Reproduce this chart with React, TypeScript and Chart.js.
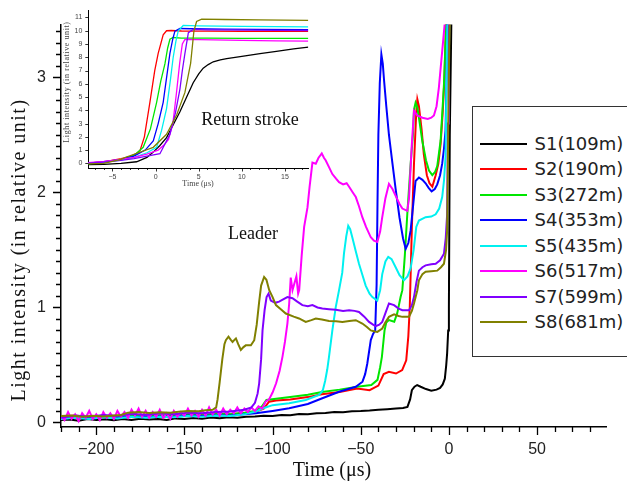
import React, { useEffect, useRef } from "react";
import { Chart, registerables } from "chart.js";
Chart.register(...registerables);

const SERIES_NAMES = ["S1(109m)", "S2(190m)", "S3(272m)", "S4(353m)", "S5(435m)", "S6(517m)", "S7(599m)", "S8(681m)"];
const SERIES_COLORS = ["#000000", "#ff0000", "#00e600", "#0000ff", "#00f0f0", "#ff00ff", "#8000ff", "#808000"];

const X_TICKS = [-200, -150, -100, -50, 0, 50];
const Y_TICKS = [0, 1, 2, 3];
const INSET_X_TICKS = [-5, 0, 5, 10, 15];
const INSET_Y_TICKS = [0, 1, 2, 3, 4, 5, 6, 7, 8, 9, 10, 11];

// Main chart: leader phase (time in µs, light intensity relative)
const S1 = [[-220,0.02],[-215,0.025],[-210,0.015],[-205,0.03],[-200,0.02],[-195,0.028],[-190,0.018],[-185,0.03],[-180,0.022],[-175,0.032],[-170,0.025],[-165,0.03],[-160,0.022],[-155,0.035],[-150,0.03],[-145,0.038],[-140,0.032],[-135,0.042],[-130,0.036],[-125,0.045],[-120,0.04],[-115,0.05],[-110,0.052],[-105,0.058],[-100,0.055],[-95,0.065],[-90,0.062],[-85,0.072],[-80,0.07],[-75,0.08],[-70,0.082],[-65,0.09],[-60,0.088],[-55,0.098],[-50,0.1],[-45,0.104],[-40,0.11],[-35,0.115],[-30,0.12],[-26,0.125],[-23.5,0.135],[-22,0.2],[-21,0.28],[-19.5,0.31],[-18,0.325],[-16,0.31],[-13,0.29],[-10,0.275],[-7,0.285],[-5,0.3],[-3.5,0.33],[-2.3,0.38],[-1.5,0.5],[-1,0.6],[-0.4,0.8],[0,1.0],[0.5,2.5],[1.5,3.6],[2.5,4.2]];
const S2 = [[-220,0.05],[-212,0.06],[-204,0.045],[-196,0.058],[-188,0.05],[-180,0.062],[-172,0.055],[-164,0.06],[-156,0.058],[-148,0.07],[-140,0.065],[-132,0.075],[-124,0.07],[-116,0.082],[-110,0.09],[-105,0.12],[-102,0.18],[-98,0.19],[-90,0.2],[-80,0.22],[-72,0.245],[-62,0.265],[-52,0.295],[-45,0.28],[-40,0.32],[-37,0.42],[-34,0.44],[-30,0.425],[-26.5,0.455],[-24.2,0.54],[-23,0.75],[-22.2,1.0],[-21.5,1.4],[-21,1.7],[-19.8,2.25],[-18.5,2.7],[-17.9,2.81],[-17,2.75],[-15.5,2.55],[-14.2,2.33],[-12.5,2.15],[-11,2.08],[-9.4,2.05],[-7.5,2.15],[-6,2.25],[-4.7,2.42],[-3.5,2.7],[-2.5,3.0],[-1.6,3.5],[-1,3.8]];
const S3 = [[-220,0.04],[-212,0.055],[-204,0.045],[-196,0.06],[-188,0.05],[-180,0.06],[-172,0.052],[-164,0.062],[-156,0.058],[-148,0.068],[-140,0.062],[-132,0.072],[-124,0.07],[-116,0.085],[-110,0.1],[-106,0.14],[-103.5,0.195],[-98,0.205],[-90,0.22],[-80,0.24],[-72,0.265],[-62,0.285],[-52,0.31],[-44,0.325],[-40.5,0.37],[-39,0.48],[-38,0.57],[-36.5,0.8],[-35.5,0.87],[-34,0.89],[-31,0.875],[-29.3,0.95],[-27.4,1.09],[-26.4,1.15],[-25,1.45],[-23.6,1.81],[-21.7,2.25],[-20.4,2.5],[-19.8,2.72],[-18.9,2.78],[-17.9,2.74],[-16.5,2.6],[-15.1,2.45],[-13,2.28],[-11.3,2.19],[-9.4,2.15],[-7.8,2.18],[-6.6,2.23],[-4.7,2.45],[-3.7,2.7],[-2.8,2.94],[-1.5,3.48],[-1,3.8]];
const S4 = [[-220,0.03],[-212,0.045],[-204,0.035],[-196,0.05],[-188,0.04],[-180,0.05],[-172,0.045],[-164,0.052],[-156,0.05],[-148,0.06],[-140,0.055],[-132,0.062],[-124,0.06],[-116,0.07],[-109.5,0.08],[-100,0.1],[-90.6,0.123],[-80,0.16],[-71.8,0.21],[-62.3,0.267],[-52.8,0.31],[-49,0.354],[-47.5,0.42],[-46.3,0.51],[-44.3,0.716],[-43,0.77],[-41.8,0.8],[-41,1.2],[-40.5,1.9],[-40,2.5],[-39.2,2.95],[-38.3,3.2],[-37.5,3.12],[-36.8,2.98],[-35.5,2.75],[-34,2.5],[-32,2.25],[-30.2,2.03],[-28,1.78],[-26,1.6],[-24.5,1.51],[-23,1.56],[-21.7,1.67],[-20.2,1.9],[-18.9,2.1],[-17,2.13],[-15,2.11],[-13.2,2.08],[-11.5,2.04],[-9.8,2.01],[-8,2.03],[-6.6,2.07],[-5,2.15],[-3.8,2.25],[-2.8,2.38],[-1.9,2.54],[-1.3,3.0],[-0.8,3.6]];
const S5 = [[-220,0.03],[-212,0.04],[-204,0.03],[-196,0.045],[-188,0.035],[-180,0.05],[-172,0.04],[-164,0.05],[-156,0.045],[-148,0.055],[-140,0.05],[-132,0.06],[-124,0.055],[-116,0.07],[-109.5,0.094],[-104,0.13],[-100,0.15],[-90.6,0.166],[-81.2,0.195],[-73.6,0.24],[-71.5,0.28],[-70.2,0.36],[-69,0.46],[-68,0.57],[-66.1,0.8],[-64.2,1.0],[-62.3,1.15],[-60.5,1.3],[-59.5,1.47],[-58.2,1.62],[-57.1,1.71],[-56,1.68],[-54.8,1.61],[-53,1.5],[-51,1.38],[-49,1.28],[-47.2,1.19],[-45,1.12],[-43.4,1.09],[-40.6,1.06],[-39,1.15],[-37.8,1.29],[-36,1.4],[-34.4,1.44],[-32.5,1.42],[-30.2,1.35],[-28,1.28],[-25.5,1.236],[-23.5,1.27],[-21.7,1.34],[-20,1.5],[-18.5,1.7],[-17,1.756],[-13.2,1.785],[-10,1.79],[-7.5,1.81],[-5.5,1.86],[-3.8,1.96],[-2.8,2.1],[-1.9,2.31],[-1.3,3.0],[-0.7,3.7]];
const S6 = [[-220,0.06],[-218,0.02],[-216,0.09],[-214,0.03],[-212,0.07],[-210,0.01],[-208,0.08],[-206,0.04],[-204,0.1],[-202,0.03],[-200,0.07],[-198,0.02],[-196,0.09],[-194,0.04],[-192,0.08],[-190,0.03],[-188,0.1],[-186,0.05],[-184,0.09],[-182,0.04],[-180,0.11],[-178,0.06],[-176,0.12],[-174,0.05],[-172,0.1],[-170,0.04],[-168,0.09],[-166,0.05],[-164,0.11],[-162,0.04],[-160,0.08],[-158,0.03],[-156,0.1],[-154,0.05],[-152,0.09],[-150,0.06],[-148,0.12],[-146,0.06],[-144,0.1],[-142,0.05],[-140,0.11],[-138,0.06],[-136,0.13],[-134,0.07],[-132,0.11],[-130,0.06],[-128,0.12],[-126,0.07],[-124,0.11],[-122,0.08],[-120,0.13],[-118,0.08],[-116,0.12],[-114,0.09],[-112,0.13],[-110,0.1],[-108,0.14],[-106,0.12],[-104,0.18],[-102,0.2],[-100,0.26],[-98,0.34],[-96,0.45],[-94.4,0.57],[-93,0.7],[-91.6,0.86],[-90.6,1.03],[-89.7,1.26],[-88.7,1.15],[-87.8,1.2],[-86.5,1.27],[-85.5,1.12],[-84.9,1.15],[-83.5,1.45],[-82.1,1.7],[-80.2,1.87],[-79,2.05],[-77.4,2.26],[-75.5,2.25],[-74,2.3],[-72.1,2.34],[-70.8,2.3],[-69.9,2.28],[-68,2.22],[-66.1,2.16],[-64,2.12],[-62.3,2.09],[-60,2.07],[-58,2.08],[-56.6,2.05],[-54.5,2.0],[-52.8,1.96],[-51,1.88],[-49.1,1.785],[-47,1.7],[-44.3,1.61],[-42.5,1.58],[-40.6,1.57],[-39,1.66],[-37.8,1.785],[-36,1.95],[-34,2.075],[-32,2.03],[-30.2,1.97],[-28,1.9],[-26.4,1.86],[-23.6,1.84],[-22.6,1.95],[-21.1,2.4],[-19.8,2.71],[-18,2.67],[-15,2.65],[-12,2.64],[-10,2.65],[-8.5,2.67],[-7,2.75],[-5.7,2.91],[-3.8,3.23],[-2.3,3.48],[-1.5,3.8]];
const S7 = [[-220,0.04],[-212,0.06],[-204,0.05],[-196,0.065],[-188,0.055],[-180,0.075],[-172,0.065],[-164,0.08],[-156,0.07],[-148,0.085],[-140,0.08],[-132,0.09],[-124,0.095],[-116,0.11],[-112,0.13],[-110,0.17],[-108.5,0.25],[-107.6,0.34],[-106.5,0.55],[-105.7,0.8],[-104.5,0.98],[-103.4,1.09],[-102.3,1.12],[-101,1.06],[-98.5,1.04],[-96.3,1.05],[-94,1.07],[-91.6,1.09],[-88.7,1.08],[-86,1.05],[-83.1,1.02],[-80,1.01],[-77.4,1.02],[-74.5,1.0],[-71.8,0.99],[-68,0.985],[-64.2,0.98],[-60,0.97],[-56.6,0.976],[-53.5,0.97],[-51,0.96],[-48,0.92],[-45.3,0.874],[-43,0.85],[-41.5,0.837],[-39.5,0.85],[-37.8,0.874],[-36,0.95],[-34,1.034],[-31.1,1.02],[-28.5,0.99],[-26.4,0.976],[-22.6,0.976],[-21,1.02],[-19.8,1.09],[-18.4,1.22],[-17,1.32],[-15,1.35],[-13.2,1.366],[-10,1.375],[-7.5,1.38],[-5,1.41],[-2.8,1.467],[-1.8,1.6],[-1,1.81],[-0.5,2.6],[0,3.6]];
const S8 = [[-220,0.055],[-214,0.06],[-208,0.05],[-202,0.058],[-196,0.052],[-190,0.06],[-186,0.065],[-182,0.085],[-176,0.09],[-170,0.082],[-164,0.088],[-158,0.085],[-152,0.095],[-148,0.1],[-142,0.098],[-138,0.105],[-134,0.11],[-132,0.13],[-131.2,0.2],[-130,0.35],[-128.5,0.55],[-127.3,0.68],[-126.5,0.715],[-125,0.745],[-123.8,0.72],[-122.7,0.7],[-121.5,0.72],[-120.8,0.73],[-119.5,0.68],[-118,0.63],[-116.5,0.655],[-115.2,0.67],[-112.3,0.67],[-110.4,0.715],[-109,0.85],[-107.6,1.05],[-106.5,1.19],[-104.8,1.265],[-103.5,1.24],[-101.9,1.15],[-100,1.09],[-98.1,1.02],[-95,0.98],[-92.5,0.947],[-88,0.92],[-85,0.904],[-81.2,0.874],[-78,0.89],[-75.5,0.904],[-72,0.895],[-68,0.883],[-64,0.88],[-60.4,0.874],[-56.5,0.882],[-52.8,0.889],[-49.1,0.86],[-46.5,0.83],[-44.3,0.8],[-42,0.79],[-40.6,0.787],[-37.8,0.817],[-36,0.87],[-34,0.918],[-31.1,0.94],[-28.5,0.925],[-26.4,0.918],[-22.6,0.918],[-21,0.97],[-19.8,1.034],[-17.9,1.15],[-17,1.236],[-15,1.29],[-13.2,1.31],[-10,1.315],[-6.6,1.32],[-4.5,1.35],[-2.8,1.38],[-1.6,1.5],[-1,1.67],[-0.2,2.8],[0.5,3.6]];

// Inset: return stroke
const R1 = [[-8,-0.1],[-6,-0.08],[-4,0.0],[-2.2,0.12],[-1,0.45],[-0.27,0.85],[0.5,1.35],[1.27,1.94],[2,2.85],[2.82,3.89],[3.6,5.0],[4.36,6.08],[5,6.75],[5.52,7.18],[6.1,7.45],[6.68,7.66],[7.5,7.8],[8.24,7.9],[10,8.07],[12.1,8.27],[14,8.45],[16,8.63],[17.7,8.76]];
const R2 = [[-8,0.0],[-6,0.12],[-4,0.35],[-3,0.5],[-2.2,0.75],[-1.8,0.97],[-1.3,2.0],[-0.66,4.6],[-0.1,7.0],[0.3,8.3],[0.88,9.7],[1.27,10.0],[1.8,10.02],[3,9.98],[6,9.97],[10,9.96],[14,9.95],[17.7,9.95]];
const R3 = [[-8,-0.05],[-6,0.1],[-4,0.3],[-2.5,0.6],[-1.44,1.21],[-0.6,2.6],[0.12,4.6],[0.6,6.2],[1.08,7.5],[1.4,8.7],[1.66,9.36],[2.04,9.49],[3,9.45],[6,9.44],[10,9.43],[14,9.42],[17.7,9.42]];
const R4 = [[-8,0.0],[-6,0.12],[-4,0.3],[-2.5,0.55],[-1.2,1.0],[-0.27,1.7],[0.3,3.0],[0.88,4.6],[1.3,6.6],[1.66,8.3],[2.0,9.4],[2.24,9.97],[2.82,10.17],[4,10.15],[8,10.12],[12,10.1],[17.7,10.08]];
const R5 = [[-8,0.0],[-6,0.1],[-4,0.25],[-2.5,0.45],[-1,0.8],[0.12,1.21],[0.7,2.5],[1.27,4.13],[1.7,6.2],[2.04,8.0],[2.35,9.2],[2.62,9.97],[3.2,10.4],[5,10.37],[10,10.33],[14,10.31],[17.7,10.3]];
const R6 = [[-8,0.05],[-6,0.15],[-4,0.3],[-2.5,0.45],[-1,0.7],[0.3,1.0],[1.0,1.4],[1.5,1.8],[2.0,3.0],[2.4,5.2],[2.8,7.6],[3.1,9.0],[3.4,9.35],[5,9.33],[10,9.28],[14,9.24],[17.7,9.22]];
const R7 = [[-8,0.0],[-6,0.1],[-4,0.22],[-2.5,0.35],[-1,0.55],[0.5,0.73],[1.66,2.19],[2.3,3.8],[2.82,5.6],[3.1,7.0],[3.4,8.3],[3.8,9.85],[4.36,10.1],[6,10.07],[10,10.05],[14,10.03],[17.7,10.02]];
const R8 = [[-8,-0.05],[-6,0.0],[-4,0.3],[-3.4,0.48],[-2,0.8],[-0.27,1.21],[1.27,2.19],[2.44,3.65],[3.4,5.35],[4.06,7.54],[4.44,9.97],[4.75,10.7],[5.34,10.88],[8,10.85],[12,10.82],[17.7,10.78]];

const MAIN_SERIES = [S1, S2, S3, S4, S5, S6, S7, S8];
const INSET_SERIES = [R1, R2, R3, R4, R5, R6, R7, R8];

const fmt = (v: number) => (v < 0 ? "\u2212" + Math.abs(v) : String(v));

type TickCfg = {
  xStart: number; xStep: number; xMajor: number; xMajLen: number; xMinLen: number;
  yStart: number; yStep: number; yMajor: number; yMajLen: number; yMinLen: number;
  lw: number;
  texts: (ctx: CanvasRenderingContext2D, chart: any) => void;
};

function makeDecor(id: string, cfg: TickCfg) {
  return {
    id,
    afterDraw(chart: any) {
      const ctx: CanvasRenderingContext2D = chart.ctx;
      const xs = chart.scales.x;
      const ys = chart.scales.y;
      const a = chart.chartArea;
      ctx.save();
      ctx.strokeStyle = "#000";
      ctx.lineWidth = cfg.lw;
      ctx.beginPath();
      for (let k = 0; k < 500; k++) {
        const v = cfg.xStart + k * cfg.xStep;
        if (v > xs.max + 1e-9) break;
        if (v < xs.min - 1e-9) continue;
        const p = Math.round(xs.getPixelForValue(v)) + 0.5;
        const r = v / cfg.xMajor;
        const maj = Math.abs(r - Math.round(r)) < 1e-6;
        ctx.moveTo(p, a.bottom);
        ctx.lineTo(p, a.bottom + (maj ? cfg.xMajLen : cfg.xMinLen));
      }
      for (let k = 0; k < 500; k++) {
        const v = cfg.yStart + k * cfg.yStep;
        if (v > ys.max + 1e-9) break;
        if (v < ys.min - 1e-9) continue;
        const p = Math.round(ys.getPixelForValue(v)) + 0.5;
        const r = v / cfg.yMajor;
        const maj = Math.abs(r - Math.round(r)) < 1e-6;
        ctx.moveTo(a.left, p);
        ctx.lineTo(a.left - (maj ? cfg.yMajLen : cfg.yMinLen), p);
      }
      ctx.stroke();
      cfg.texts(ctx, chart);
      ctx.restore();
    },
  };
}

function buildDatasets(series: number[][][], width: number) {
  return series.map((s, i) => ({
    label: SERIES_NAMES[i],
    data: s.map(([x, y]) => ({ x, y })),
    borderColor: SERIES_COLORS[i],
    backgroundColor: SERIES_COLORS[i],
    borderWidth: width,
    pointRadius: 0,
    showLine: true,
    tension: 0,
    order: series.length - i,
  }));
}

export default function App() {
  const mainRef = useRef<HTMLCanvasElement>(null);
  const insetRef = useRef<HTMLCanvasElement>(null);

  useEffect(() => {
    const mainChart = new Chart(mainRef.current!, {
      type: "scatter",
      data: { datasets: buildDatasets(MAIN_SERIES, 2) as any },
      options: {
        animation: false,
        responsive: false,
        devicePixelRatio: 1,
        events: [],
        layout: { padding: { left: 0, right: 20.3, top: 23.3, bottom: 0 } },
        plugins: { legend: { display: false }, tooltip: { enabled: false } },
        scales: {
          x: {
            type: "linear",
            min: -220,
            max: 89.5,
            afterBuildTicks: (s: any) => { s.ticks = X_TICKS.map((v) => ({ value: v })); },
            afterFit: (s: any) => { s.height = 54; },
            grid: { display: false, drawTicks: false },
            border: { display: true, color: "#000", width: 1.5 },
            ticks: {
              padding: 13,
              color: "#222",
              font: { family: '"Liberation Sans", Arial, sans-serif', size: 16 },
              callback: (v: any) => fmt(Number(v)),
              maxRotation: 0,
              autoSkip: false,
            },
          },
          y: {
            type: "linear",
            min: -0.04,
            max: 3.46,
            afterBuildTicks: (s: any) => { s.ticks = Y_TICKS.map((v) => ({ value: v })); },
            afterFit: (s: any) => { s.width = 61; },
            grid: { display: false, drawTicks: false },
            border: { display: true, color: "#000", width: 1.5 },
            ticks: {
              padding: 15,
              color: "#222",
              font: { family: '"Liberation Sans", Arial, sans-serif', size: 16 },
              callback: (v: any) => fmt(Number(v)),
              autoSkip: false,
            },
          },
        },
      },
      plugins: [
        makeDecor("mainDecor", {
          xStart: -220, xStep: 10, xMajor: 50, xMajLen: 8, xMinLen: 5,
          yStart: 0, yStep: 0.1, yMajor: 1, yMajLen: 8, yMinLen: 5,
          lw: 1.3,
          texts: (ctx) => {
            ctx.fillStyle = "#111";
            ctx.textAlign = "center";
            ctx.textBaseline = "middle";
            ctx.font = '18px "Liberation Serif", "Times New Roman", serif';
            ctx.fillText("Return stroke", 250, 120);
            ctx.fillText("Leader", 253, 234);
            ctx.font = '20px "Liberation Serif", "Times New Roman", serif';
            ctx.fillText("Time (\u03bcs)", 332, 471);
            ctx.save();
            ctx.translate(20, 250);
            ctx.rotate(-Math.PI / 2);
            (ctx as any).letterSpacing = "1.5px";
            ctx.fillText("Light intensity (in relative unit)", 0, 0);
            ctx.restore();
          },
        }),
      ],
    });

    const insetChart = new Chart(insetRef.current!, {
      type: "scatter",
      data: { datasets: buildDatasets(INSET_SERIES, 1.3) as any },
      options: {
        animation: false,
        responsive: false,
        devicePixelRatio: 1,
        events: [],
        layout: { padding: { left: 0, right: 5.7, top: 5, bottom: 0 } },
        plugins: { legend: { display: false }, tooltip: { enabled: false } },
        scales: {
          x: {
            type: "linear",
            min: -7.8,
            max: 17.7,
            afterBuildTicks: (s: any) => { s.ticks = INSET_X_TICKS.map((v) => ({ value: v })); },
            afterFit: (s: any) => { s.height = 24; },
            grid: { display: false, drawTicks: false },
            border: { display: true, color: "#000", width: 1 },
            ticks: {
              padding: 5,
              color: "#444",
              font: { family: '"Liberation Sans", Arial, sans-serif', size: 7 },
              callback: (v: any) => fmt(Number(v)),
              maxRotation: 0,
              autoSkip: false,
            },
          },
          y: {
            type: "linear",
            min: -0.35,
            max: 11.55,
            afterBuildTicks: (s: any) => { s.ticks = INSET_Y_TICKS.map((v) => ({ value: v })); },
            afterFit: (s: any) => { s.width = 30.3; },
            grid: { display: false, drawTicks: false },
            border: { display: true, color: "#000", width: 1 },
            ticks: {
              padding: 6,
              color: "#444",
              font: { family: '"Liberation Sans", Arial, sans-serif', size: 7 },
              callback: (v: any) => fmt(Number(v)),
              autoSkip: false,
            },
          },
        },
      },
      plugins: [
        makeDecor("insetDecor", {
          xStart: -7, xStep: 1, xMajor: 5, xMajLen: 3.5, xMinLen: 2,
          yStart: 0, yStep: 1, yMajor: 1, yMajLen: 3, yMinLen: 3,
          lw: 0.8,
          texts: (ctx) => {
            ctx.fillStyle = "#444";
            ctx.textAlign = "center";
            ctx.textBaseline = "middle";
            ctx.font = '8px "Liberation Serif", "Times New Roman", serif';
            ctx.fillText("Time (\u03bcs)", 140, 184);
            ctx.save();
            ctx.translate(9, 82);
            ctx.rotate(-Math.PI / 2);
            (ctx as any).letterSpacing = "0.6px";
            ctx.fillText("Light intensity (in relative unit)", 0, 0);
            ctx.restore();
          },
        }),
      ],
    });

    return () => {
      mainChart.destroy();
      insetChart.destroy();
    };
  }, []);

  return (
    <div style={{ position: "fixed", left: 0, top: 0, width: 627, height: 481, overflow: "hidden", background: "#fff" }}>
      <canvas ref={mainRef} width={627} height={481} style={{ position: "absolute", left: 0, top: 0, width: 627, height: 481 }} />
      <canvas ref={insetRef} width={256} height={192} style={{ position: "absolute", left: 58, top: 0, width: 256, height: 192 }} />
      <div style={{ position: "absolute", left: 472, top: 106, width: 170, height: 251, border: "1.5px solid #333", boxSizing: "border-box", background: "#fff" }}>
        {SERIES_NAMES.map((n, i) => (
          <div key={n} style={{ position: "absolute", left: 0, top: 36.5 + 25.5 * i - 12, height: 24, width: "100%" }}>
            <div style={{ position: "absolute", left: 6.5, top: 11, width: 47, height: 2, background: SERIES_COLORS[i] }} />
            <span style={{ position: "absolute", left: 61.5, top: 0, lineHeight: "24px", fontFamily: '"DejaVu Sans", sans-serif', fontSize: 18, color: "#222", whiteSpace: "nowrap" }}>{n}</span>
          </div>
        ))}
      </div>
    </div>
  );
}
